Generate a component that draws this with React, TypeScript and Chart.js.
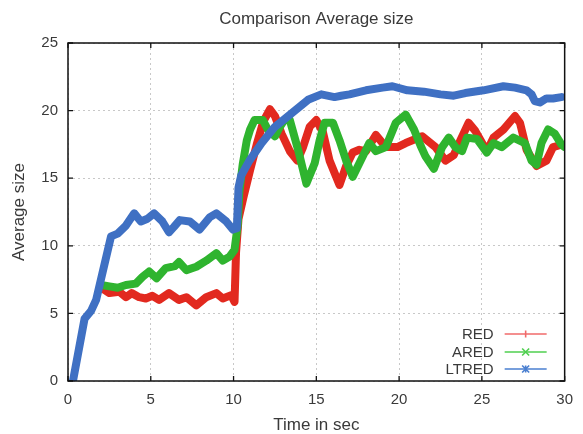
import React, { useEffect, useRef } from 'react';
import { Chart, registerables } from 'chart.js';

Chart.register(...registerables);

const TITLE = 'Comparison Average size';
const X_LABEL = 'Time in sec';
const Y_LABEL = 'Average size';
const SERIES_NAMES = ['RED', 'ARED', 'LTRED'];
const X_TICKS = [0, 5, 10, 15, 20, 25, 30];
const Y_TICKS = [0, 5, 10, 15, 20, 25];

const redT = [2.0, 2.5, 3.1, 3.5, 3.85, 4.3, 4.7, 5.1, 5.5, 6.1, 6.7, 7.15, 7.75, 8.35, 8.96, 9.35, 9.86, 10.06, 10.15, 10.3, 10.6, 11.0, 11.4, 11.8, 12.2, 12.5, 12.9, 13.4, 13.85, 14.2, 14.6, 15.0, 15.4, 15.8, 16.4, 16.8, 17.2, 17.6, 18.0, 18.6, 19.2, 19.9, 20.4, 21.4, 22.2, 22.8, 23.3, 23.7, 24.2, 24.6, 25.3, 25.7, 26.3, 27.0, 27.3, 27.7, 28.3, 28.9, 29.3, 29.6];
const redV = [6.9, 6.5, 6.6, 6.2, 6.5, 6.2, 6.1, 6.3, 6.0, 6.5, 6.0, 6.2, 5.6, 6.2, 6.5, 6.1, 6.35, 5.85, 9.5, 12.0, 13.6, 15.6, 17.5, 19.2, 20.1, 19.6, 18.3, 17.0, 16.3, 17.3, 18.8, 19.3, 18.4, 16.3, 14.5, 15.9, 16.9, 17.1, 17.0, 18.2, 17.3, 17.3, 17.6, 18.1, 17.3, 16.3, 16.7, 17.8, 19.1, 18.5, 17.0, 18.0, 18.6, 19.6, 19.1, 17.1, 15.9, 16.3, 17.3, 17.4];

const aredT = [2.0, 2.5, 3.0, 3.5, 4.1, 4.5, 4.9, 5.35, 5.9, 6.45, 6.7, 7.15, 7.75, 8.35, 8.96, 9.35, 9.76, 10.06, 10.25, 10.35, 10.55, 10.8, 11.0, 11.27, 11.77, 12.07, 12.5, 12.8, 13.07, 13.4, 13.9, 14.4, 14.9, 15.2, 15.5, 16.0, 16.4, 16.8, 17.2, 17.6, 18.2, 18.6, 19.2, 19.8, 20.4, 20.9, 21.3, 21.6, 22.1, 22.6, 23.0, 23.4, 23.8, 24.1, 24.7, 25.3, 25.7, 26.2, 26.9, 27.6, 28.0, 28.3, 28.6, 29.0, 29.4, 29.8, 30.0];
const aredV = [7.1, 7.0, 6.9, 7.1, 7.2, 7.7, 8.1, 7.6, 8.35, 8.5, 8.8, 8.2, 8.45, 8.9, 9.45, 8.9, 9.2, 9.7, 11.5, 14.0, 16.0, 17.8, 18.6, 19.3, 19.3, 18.6, 18.1, 18.8, 19.3, 19.3, 17.1, 14.6, 16.1, 17.8, 19.1, 19.1, 17.8, 16.3, 15.1, 16.1, 17.6, 17.0, 17.3, 19.1, 19.7, 18.6, 17.4, 16.6, 15.7, 17.3, 18.0, 17.3, 17.0, 18.0, 17.9, 16.9, 17.6, 17.3, 18.0, 17.6, 16.3, 16.0, 17.6, 18.6, 18.3, 17.5, 17.3];

const ltredT = [0.3, 1.0, 1.4, 1.7, 2.6, 3.0, 3.5, 4.0, 4.4, 4.8, 5.2, 5.7, 6.1, 6.4, 6.75, 7.35, 7.95, 8.55, 8.96, 9.56, 9.96, 10.2, 10.3, 10.46, 10.96, 11.7, 12.5, 13.5, 14.5, 15.3, 16.1, 16.5, 17.0, 18.0, 19.0, 19.6, 20.5, 21.5, 22.5, 23.3, 24.0, 25.1, 26.3, 27.0, 27.7, 28.0, 28.2, 28.5, 28.9, 29.3, 29.8];
const ltredV = [0, 4.6, 5.2, 6.0, 10.7, 10.9, 11.5, 12.4, 11.8, 12.0, 12.4, 11.8, 11.0, 11.4, 11.9, 11.8, 11.2, 12.1, 12.4, 11.8, 11.2, 11.3, 14.3, 15.2, 16.3, 17.6, 18.8, 19.8, 20.8, 21.2, 21.0, 21.1, 21.2, 21.5, 21.7, 21.8, 21.5, 21.4, 21.2, 21.1, 21.3, 21.5, 21.8, 21.7, 21.5, 21.2, 20.7, 20.6, 20.9, 20.9, 21.0];

const LINE_COLORS = ['#e2291f', '#2fb42f', '#3f70c3'];
const KEY_COLORS = ['#f06a6a', '#4fcf4f', '#4a7fd0'];
const KEY_MARKS = ['plus', 'cross', 'star'];

const FONT = '"Liberation Sans", Arial, sans-serif';
const TEXT_COLOR = '#3a3a3a';

const toPoints = (t: number[], v: number[]) => t.map((x, i) => ({ x, y: v[i] }));

const framePlugin = {
  id: 'gnuFrame',
  afterDatasetsDraw(chart: any) {
    const { ctx, chartArea, scales } = chart;
    const { left, right, top, bottom } = chartArea;
    const xs = scales.x;
    const ys = scales.y;
    ctx.save();
    ctx.strokeStyle = '#111';
    ctx.lineWidth = 1.5;
    ctx.strokeRect(left, top, right - left, bottom - top);
    ctx.lineWidth = 1.3;
    const tl = 5;
    ctx.beginPath();
    X_TICKS.forEach((v) => {
      const px = xs.getPixelForValue(v);
      ctx.moveTo(px, bottom);
      ctx.lineTo(px, bottom - tl);
      ctx.moveTo(px, top);
      ctx.lineTo(px, top + tl);
    });
    Y_TICKS.forEach((v) => {
      const py = ys.getPixelForValue(v);
      ctx.moveTo(left, py);
      ctx.lineTo(left + tl, py);
      ctx.moveTo(right, py);
      ctx.lineTo(right - tl, py);
    });
    ctx.stroke();

    // key (legend)
    ctx.font = `15px ${FONT}`;
    ctx.textAlign = 'right';
    ctx.textBaseline = 'middle';
    const textX = right - 71;
    const lineX0 = right - 60;
    const lineX1 = right - 18;
    const markX = (lineX0 + lineX1) / 2;
    const rows = [bottom - 47, bottom - 29, bottom - 12];
    SERIES_NAMES.forEach((name, i) => {
      const y = rows[i];
      ctx.fillStyle = TEXT_COLOR;
      ctx.fillText(name, textX, y + 1);
      ctx.strokeStyle = KEY_COLORS[i];
      ctx.lineWidth = 1.6;
      ctx.beginPath();
      ctx.moveTo(lineX0, y);
      ctx.lineTo(lineX1, y);
      ctx.stroke();
      const m = 3.5;
      ctx.beginPath();
      if (KEY_MARKS[i] === 'plus') {
        ctx.moveTo(markX, y - m);
        ctx.lineTo(markX, y + m);
      } else if (KEY_MARKS[i] === 'cross') {
        ctx.moveTo(markX - m, y - m);
        ctx.lineTo(markX + m, y + m);
        ctx.moveTo(markX - m, y + m);
        ctx.lineTo(markX + m, y - m);
      } else {
        ctx.moveTo(markX - m, y - m);
        ctx.lineTo(markX + m, y + m);
        ctx.moveTo(markX - m, y + m);
        ctx.lineTo(markX + m, y - m);
        ctx.moveTo(markX, y - m);
        ctx.lineTo(markX, y + m);
      }
      ctx.lineWidth = 1.6;
      ctx.stroke();
    });
    ctx.restore();
  },
};

export default function App() {
  const ref = useRef<HTMLCanvasElement | null>(null);

  useEffect(() => {
    if (!ref.current) return;
    const series = [
      toPoints(redT, redV),
      toPoints(aredT, aredV),
      toPoints(ltredT, ltredV),
    ];
    const chart = new Chart(ref.current, {
      type: 'line',
      data: {
        datasets: SERIES_NAMES.map((name, i) => ({
          label: name,
          data: series[i],
          borderColor: LINE_COLORS[i],
          backgroundColor: LINE_COLORS[i],
          borderWidth: 8,
          pointRadius: 0,
          tension: 0,
          fill: false,
          borderJoinStyle: 'round' as const,
          borderCapStyle: 'round' as const,
          order: 3 - i,
        })),
      },
      options: {
        responsive: false,
        animation: false,
        devicePixelRatio: 1,
        layout: { padding: { left: 0, right: 15, top: 0, bottom: 0 } },
        plugins: {
          legend: { display: false },
          tooltip: { enabled: false },
          title: {
            display: true,
            text: TITLE,
            fullSize: false,
            color: TEXT_COLOR,
            font: { family: FONT, size: 17, weight: 'normal', lineHeight: 1.2 },
            padding: { top: 9, bottom: 13.6 },
          },
        },
        scales: {
          x: {
            type: 'linear',
            min: 0,
            max: 30,
            afterFit: (s: any) => {
              s.height = 53;
            },
            ticks: {
              stepSize: 5,
              color: TEXT_COLOR,
              font: { family: FONT, size: 15 },
              padding: 10,
              maxRotation: 0,
            },
            grid: {
              color: '#c8c8c8',
              lineWidth: 1,
              drawTicks: false,
            },
            border: { display: false, dash: [2, 3] },
            title: {
              display: true,
              text: X_LABEL,
              color: TEXT_COLOR,
              font: { family: FONT, size: 17, lineHeight: 1.0 },
              padding: { top: 0, bottom: 0 },
            },
          },
          y: {
            type: 'linear',
            min: 0,
            max: 25,
            afterFit: (s: any) => {
              s.width = 68;
            },
            ticks: {
              stepSize: 5,
              color: TEXT_COLOR,
              font: { family: FONT, size: 15 },
              padding: 10,
            },
            grid: {
              color: '#c8c8c8',
              lineWidth: 1,
              drawTicks: false,
            },
            border: { display: false, dash: [2, 3] },
            title: {
              display: true,
              text: Y_LABEL,
              color: TEXT_COLOR,
              font: { family: FONT, size: 17, lineHeight: 1.2 },
              padding: { top: 9, bottom: 0 },
            },
          },
        },
      },
      plugins: [framePlugin],
    } as any);
    return () => chart.destroy();
  }, []);

  return (
    <canvas
      ref={ref}
      width={583}
      height={434}
      style={{ position: 'absolute', left: 0, top: 0, display: 'block' }}
    />
  );
}
